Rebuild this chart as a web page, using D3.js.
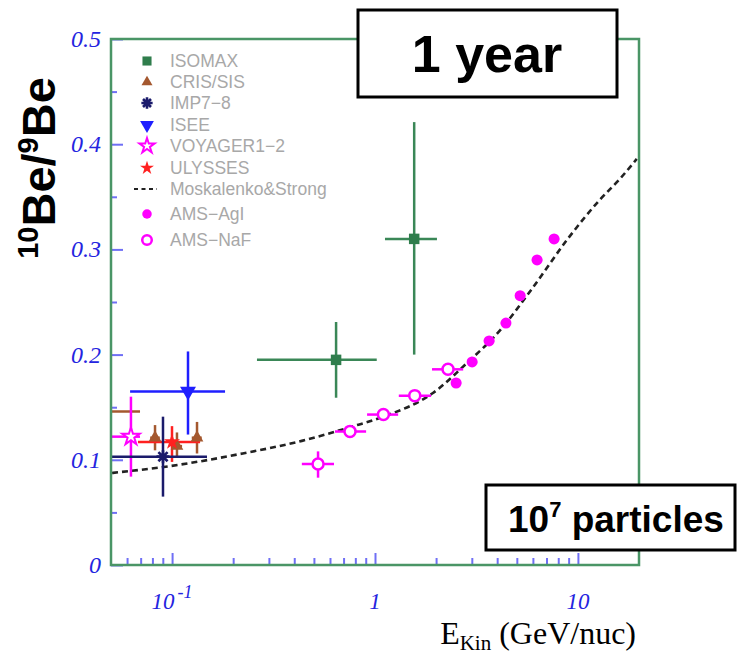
<!DOCTYPE html>
<html><head><meta charset="utf-8">
<script src="https://cdn.jsdelivr.net/npm/d3@7"></script>
<style>body{margin:0;background:#fff}svg{display:block}</style>
</head><body>
<svg id="c" width="738" height="654"></svg>
<script>
// ---------------- data ----------------
const isomax = [
  {e:0.643, v:0.195, elo:0.262, ehi:1.02, vlo:0.159, vhi:0.231},
  {e:1.56,  v:0.310, elo:1.12,  ehi:2.02, vlo:0.200, vhi:0.421}
];
const crisSis = [
  {e:0.045,  v:0.146, elo:0.030, ehi:0.0695, vlo:0.146, vhi:0.146},
  {e:0.0824, v:0.121, elo:0.078, ehi:0.087,  vlo:0.109, vhi:0.133},
  {e:0.1057, v:0.113, elo:0.100, ehi:0.112,  vlo:0.102, vhi:0.126},
  {e:0.1327, v:0.121, elo:0.125, ehi:0.140,  vlo:0.106, vhi:0.136}
];
const imp78   = [{e:0.0902, v:0.103, elo:0.050,  ehi:0.1486, vlo:0.065, vhi:0.141}];
const isee    = [{e:0.1198, v:0.165, elo:0.0621, ehi:0.1824, vlo:0.124, vhi:0.203}];
const voyager = [{e:0.0627, v:0.122, elo:0.0505, ehi:0.0695, vlo:0.084, vhi:0.160}];
const ulysses = [{e:0.0999, v:0.117, elo:0.0679, ehi:0.1374, vlo:0.098, vhi:0.132}];
const amsAgl = [
  {e:2.51, v:0.173, elo:2.37, ehi:2.66, vlo:0.173, vhi:0.173},
  {e:3.01, v:0.193, elo:2.84, ehi:3.19, vlo:0.193, vhi:0.193},
  {e:3.65, v:0.213, elo:3.44, ehi:3.87, vlo:0.213, vhi:0.213},
  {e:4.42, v:0.230, elo:4.17, ehi:4.68, vlo:0.230, vhi:0.230},
  {e:5.19, v:0.256, elo:4.90, ehi:5.50, vlo:0.256, vhi:0.256},
  {e:6.29, v:0.290, elo:5.93, ehi:6.67, vlo:0.290, vhi:0.290},
  {e:7.63, v:0.310, elo:7.20, ehi:8.09, vlo:0.310, vhi:0.310}
];
const amsNaF = [
  {e:0.524, v:0.096, elo:0.436, ehi:0.628, vlo:0.083, vhi:0.108},
  {e:0.753, v:0.127, elo:0.635, ehi:0.904, vlo:0.127, vhi:0.127},
  {e:1.10,  v:0.143, elo:0.914, ehi:1.30,  vlo:0.143, vhi:0.143},
  {e:1.57,  v:0.161, elo:1.31,  ehi:1.89,  vlo:0.161, vhi:0.161},
  {e:2.29,  v:0.186, elo:1.91,  ehi:2.72,  vlo:0.186, vhi:0.186}
];
const moskE = [0.0506, 0.0977, 0.216, 0.436, 0.753, 1.10, 1.93, 2.84, 4.13, 6.01, 8.83, 12.8, 16.1, 19.5];
const moskV = [0.0875, 0.094, 0.1055, 0.118, 0.131, 0.141, 0.1635, 0.192, 0.223, 0.264, 0.309, 0.347, 0.367, 0.386];

const xMajor = [0.1, 1, 10];
const xMinor = [0.06,0.07,0.08,0.09,0.2,0.3,0.4,0.5,0.6,0.7,0.8,0.9,2,3,4,5,6,7,8,9];
const yMajor = [0, 0.1, 0.2, 0.3, 0.4, 0.5];
const yMinor = [0.05, 0.15, 0.25, 0.35, 0.45];
const yLabels = ["0", "0.1", "0.2", "0.3", "0.4", "0.5"];
const xLabels = [{base:"10", exp:"-1"}, {base:"1", exp:""}, {base:"10", exp:""}];
const legendNames = ["ISOMAX","CRIS/SIS","IMP7\u22128","ISEE","VOYAGER1\u22122","ULYSSES","Moskalenko&Strong","AMS\u2212AgI","AMS\u2212NaF"];

// ---------------- setup ----------------
const svg = d3.select("#c");
const L = 111, R = 639, T = 39, B = 565;
const x = d3.scaleLog().domain([0.05, 20]).range([L, R]);
const y = d3.scaleLinear().domain([0, 0.5]).range([B, T]);

const tickCol = "#6f6ff5", labCol = "#2424e0", frameCol = "#4a9566";
const GREEN = "#2f7d4c", BROWN = "#a4582f", NAVY = "#1b1b6b", BLUE = "#1f1fff", MAG = "#ff00ff", RED = "#ff2020";

svg.append("defs").append("clipPath").attr("id","pc")
  .append("rect").attr("x",L).attr("y",T).attr("width",R-L).attr("height",B-T);

// ticks
function styleAxis(g){ g.select(".domain").remove(); g.selectAll("line").attr("stroke",tickCol).attr("stroke-width",2); g.selectAll("text").remove(); }
svg.append("g").attr("transform",`translate(0,${B})`)
  .call(d3.axisBottom(x).tickValues(xMajor).tickSizeInner(-12).tickSizeOuter(0).tickFormat("")).call(styleAxis);
svg.append("g").attr("transform",`translate(0,${B})`)
  .call(d3.axisBottom(x).tickValues(xMinor).tickSizeInner(-7).tickSizeOuter(0).tickFormat("")).call(styleAxis);
svg.append("g").attr("transform",`translate(${L},0)`)
  .call(d3.axisLeft(y).tickValues(yMajor).tickSizeInner(-12).tickSizeOuter(0).tickFormat("")).call(styleAxis);
svg.append("g").attr("transform",`translate(${L},0)`)
  .call(d3.axisLeft(y).tickValues(yMinor).tickSizeInner(-6).tickSizeOuter(0).tickFormat("")).call(styleAxis);

// y labels
svg.append("g").selectAll("text").data(yMajor).join("text")
  .attr("x", 101).attr("y", d => y(d) + 8)
  .attr("text-anchor","end").attr("fill",labCol)
  .style("font-family","'Liberation Serif','DejaVu Serif',serif").style("font-style","italic").style("font-size","24px")
  .text((d,i) => yLabels[i]);

// x labels
const xl = svg.append("g").selectAll("text").data(xMajor).join("text")
  .attr("x", d => x(d)).attr("y", 609).attr("text-anchor","middle").attr("fill",labCol)
  .style("font-family","'Liberation Serif','DejaVu Serif',serif").style("font-style","italic").style("font-size","23px");
xl.each(function(d,i){
  const t = d3.select(this);
  t.append("tspan").text(xLabels[i].base);
  if (xLabels[i].exp) t.append("tspan").attr("dy",-11).attr("dx",3).style("font-size","18px").text(xLabels[i].exp);
});

// x title
const xt = svg.append("text").attr("x",636).attr("y",644).attr("text-anchor","end").attr("fill","#000")
  .style("font-family","'Liberation Serif','DejaVu Serif',serif").style("font-size","32px");
xt.append("tspan").text("E");
xt.append("tspan").attr("dy",6).style("font-size","21px").text("Kin");
xt.append("tspan").attr("dy",-6).text(" (GeV/nuc)");

// y title
const yt = svg.append("text").attr("transform","translate(55,168) rotate(-90)").attr("text-anchor","middle")
  .style("font-family","'Liberation Sans',Arial,sans-serif").style("font-weight","bold").style("font-size","47px").attr("fill","#000");
yt.append("tspan").attr("dy",-17).style("font-size","29px").text("10");
yt.append("tspan").attr("dy",17).text("Be/");
yt.append("tspan").attr("dy",-17).style("font-size","29px").text("9");
yt.append("tspan").attr("dy",17).text("Be");

// Moskalenko & Strong curve
const plot = svg.append("g").attr("clip-path","url(#pc)");
const mosk = moskE.map((e,i) => [e, moskV[i]]);
plot.append("path").datum(mosk)
  .attr("d", d3.line().x(d => x(d[0])).y(d => y(d[1])).curve(d3.curveMonotoneX))
  .attr("fill","none").attr("stroke","#222").attr("stroke-width",2.6).attr("stroke-dasharray","6,4");

// error bars
function errbars(data, col, w){
  const g = plot.append("g").attr("stroke",col).attr("stroke-width",w||2.5);
  g.selectAll(".h").data(data).join("line")
    .attr("x1",d=>x(d.elo)).attr("x2",d=>x(d.ehi)).attr("y1",d=>y(d.v)).attr("y2",d=>y(d.v));
  g.selectAll(".v").data(data.filter(d=>d.vhi>d.vlo)).join("line")
    .attr("x1",d=>x(d.e)).attr("x2",d=>x(d.e)).attr("y1",d=>y(d.vlo)).attr("y2",d=>y(d.vhi));
}
errbars(isomax, "#3a8757");
errbars(crisSis, BROWN);
errbars(isee, BLUE);
errbars(voyager, MAG);
errbars(ulysses, RED);
errbars(imp78, NAVY);
errbars(amsNaF, MAG);
errbars(amsAgl, MAG);

// marker shapes
const sym = (type, size) => d3.symbol().type(type).size(size)();
const asterisk = r => { let p=""; for (let k=0;k<4;k++){ const a=k*Math.PI/4; p+=`M${-r*Math.cos(a)},${-r*Math.sin(a)}L${r*Math.cos(a)},${r*Math.sin(a)}`;} return p; };
const markers = {
  isomax:  (g,s) => g.append("path").attr("d", sym(d3.symbolSquare, 110*s)).attr("fill", GREEN),
  cris:    (g,s) => g.append("path").attr("d", sym(d3.symbolTriangle, 70*s)).attr("fill", BROWN),
  imp:     (g,s) => g.append("path").attr("d", asterisk(6.5*Math.sqrt(s))).attr("stroke", NAVY).attr("stroke-width",2.6).attr("fill","none"),
  isee:    (g,s) => g.append("path").attr("d", sym(d3.symbolTriangle, 110*s)).attr("transform","rotate(180)").attr("fill", BLUE),
  voyager: (g,s) => g.append("path").attr("d", sym(d3.symbolStar, 95*s)).attr("fill","#fff").attr("stroke",MAG).attr("stroke-width",2),
  ulysses: (g,s) => g.append("path").attr("d", sym(d3.symbolStar, 80*s)).attr("fill", RED),
  agl:     (g,s) => g.append("circle").attr("r",5.5*Math.sqrt(s)).attr("fill", MAG),
  naf:     (g,s) => g.append("circle").attr("r",5.5*Math.sqrt(s)).attr("fill","#fff").attr("stroke",MAG).attr("stroke-width",2.5)
};
function drawPts(data, key){
  plot.append("g").selectAll("g").data(data).join("g")
    .attr("transform", d => `translate(${x(d.e)},${y(d.v)})`)
    .each(function(){ markers[key](d3.select(this), 1); });
}
drawPts(isomax,"isomax"); drawPts(crisSis,"cris"); drawPts(isee,"isee");
drawPts(voyager,"voyager"); drawPts(ulysses,"ulysses"); drawPts(imp78,"imp");
drawPts(amsNaF,"naf"); drawPts(amsAgl,"agl");

// frame
svg.append("rect").attr("x",L).attr("y",T).attr("width",R-L).attr("height",B-T)
  .attr("fill","none").attr("stroke",frameCol).attr("stroke-width",2.5);

// legend
const legKeys = ["isomax","cris","imp","isee","voyager","ulysses","line","agl","naf"];
const legY = [61, 82, 103, 125, 146, 168, 189, 214, 240];
const leg = svg.append("g");
legKeys.forEach((k,i) => {
  const g = leg.append("g").attr("transform",`translate(147,${legY[i]})`);
  if (k === "line") g.append("line").attr("x1",-13).attr("x2",10).attr("stroke","#222").attr("stroke-width",2.2).attr("stroke-dasharray","4,3.5");
  else markers[k](g, 0.75);
  leg.append("text").attr("x",170).attr("y",legY[i]+6).attr("fill","#a8a8a8")
    .style("font-family","'Liberation Sans',Arial,sans-serif").style("font-size","17.5px").text(legendNames[i]);
});

// boxes
svg.append("rect").attr("x",358).attr("y",10).attr("width",259).attr("height",87).attr("fill","#fff").attr("stroke","#000").attr("stroke-width",3);
svg.append("text").attr("x",487).attr("y",72).attr("text-anchor","middle")
  .style("font-family","'Liberation Sans',Arial,sans-serif").style("font-weight","bold").style("font-size","52px").text("1 year");
svg.append("rect").attr("x",486).attr("y",485).attr("width",249).attr("height",65).attr("fill","#fff").attr("stroke","#000").attr("stroke-width",3);
const pt = svg.append("text").attr("x",508).attr("y",532)
  .style("font-family","'Liberation Sans',Arial,sans-serif").style("font-weight","bold").style("font-size","37px");
pt.append("tspan").text("10");
pt.append("tspan").attr("dy",-15).style("font-size","22px").text("7");
pt.append("tspan").attr("dy",15).text(" particles");
</script>
</body></html>
